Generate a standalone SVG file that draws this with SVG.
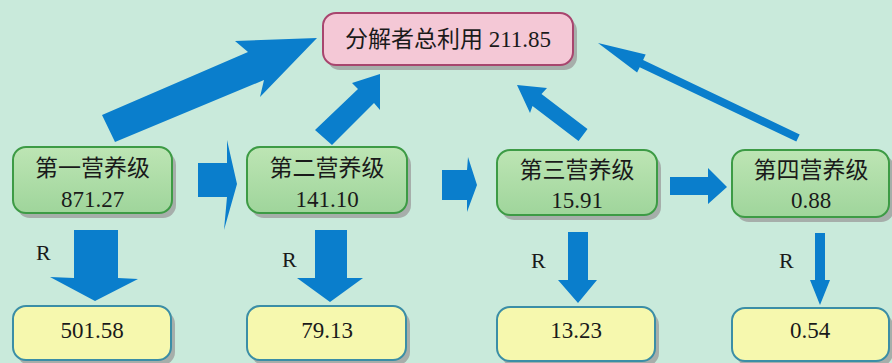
<svg xmlns="http://www.w3.org/2000/svg" width="892" height="363" viewBox="0 0 892 363">
<defs>
<linearGradient id="gg" x1="0" y1="0" x2="0" y2="1">
<stop offset="0" stop-color="#bde5b4"/>
<stop offset="1" stop-color="#9fd59b"/>
</linearGradient>
<style>
.sh{fill:#9a9a9a;opacity:0.75}
.g{fill:url(#gg);stroke:#3d9b45;stroke-width:2}
.p{fill:#f4c8d6;stroke:#a8456e;stroke-width:2}
.y{fill:#f6f8ae;stroke:#3b8ea6;stroke-width:2}
text.cj,tspan.cj{font-family:"Noto Sans CJK SC","Noto Sans",sans-serif;font-size:23px;fill:#1a1a1a}
text.nm,tspan.nm{font-family:"Liberation Serif","Times New Roman",serif;font-size:23px;fill:#1a1a1a}
text.r{font-family:"Liberation Serif","Times New Roman",serif;font-size:22px;fill:#1a1a1a}
.ar{fill:#0a7ecc}
</style>
</defs>
<rect width="892" height="363" fill="#c9eadb"/>
<g id="connectors">
<polygon class="ar" points="102,115 248,52 235,41 317,38 260,97 264,80 115,142"/>
<polygon class="ar" points="315,130 358,89 352,83 380,74 380,110 374,103 332,145"/>
<polygon class="ar" points="587.5,129 541.5,94 547,88 517,85 530,113 532.5,106 578.5,141"/>
<polygon class="ar" points="799.7,134.4 643.1,60 645.7,54.6 598,43 637.1,72.6 639.7,67.2 796.3,141.6"/>
<polygon class="ar" points="198,163 227,163 227,140 237,184 224,230 227,197 198,197"/>
<polygon class="ar" points="442,170 467,170 468,157 477,185 467,212 467,200 442,200"/>
<polygon class="ar" points="670,177 708,177 708,168 727,187 708,204 708,195 670,195"/>
<polygon class="ar" points="74,230 118,230 118,278 138,279 95,301 50,277 74,278"/>
<polygon class="ar" points="315,230 347,230 347,278 363,278 330,302 297,278 315,278"/>
<polygon class="ar" points="568,232 588,232 588,280 597,280 578,303 558,280 568,280"/>
<polygon class="ar" points="815,233 825,233 825,280 830,280 820,305 810,280 815,280"/>
<text class="r" x="36" y="260">R</text>
<text class="r" x="282" y="267">R</text>
<text class="r" x="531" y="268">R</text>
<text class="r" x="779" y="268">R</text>
</g>
<g id="decomposer">
<rect class="sh" x="327" y="18" width="250" height="52" rx="13"/>
<rect class="p" x="323" y="13" width="250" height="52" rx="13"/>
<text x="448" y="47" text-anchor="middle"><tspan class="cj">分解者总利用</tspan><tspan class="nm"> 211.85</tspan></text>
</g>
<g id="level1">
<rect class="sh" x="17" y="152" width="159" height="66" rx="13"/>
<rect class="g" x="13" y="147" width="159" height="66" rx="13"/>
<text class="cj" x="92.5" y="176" text-anchor="middle">第一营养级</text>
<text class="nm" x="92.5" y="207" text-anchor="middle">871.27</text>
</g>
<g id="level2">
<rect class="sh" x="251" y="152" width="160" height="66" rx="13"/>
<rect class="g" x="247" y="147" width="160" height="66" rx="13"/>
<text class="cj" x="327" y="176" text-anchor="middle">第二营养级</text>
<text class="nm" x="327" y="207" text-anchor="middle">141.10</text>
</g>
<g id="level3">
<rect class="sh" x="501" y="155" width="160" height="65" rx="13"/>
<rect class="g" x="497" y="150" width="160" height="65" rx="13"/>
<text class="cj" x="577" y="178" text-anchor="middle">第三营养级</text>
<text class="nm" x="577" y="208" text-anchor="middle">15.91</text>
</g>
<g id="level4">
<rect class="sh" x="736" y="155" width="158" height="67" rx="13"/>
<rect class="g" x="732" y="150" width="157" height="67" rx="13"/>
<text class="cj" x="811" y="178" text-anchor="middle">第四营养级</text>
<text class="nm" x="811" y="208" text-anchor="middle">0.88</text>
</g>
<g id="resp1">
<rect class="sh" x="17" y="311" width="158" height="54" rx="13"/>
<rect class="y" x="13" y="306" width="158" height="54" rx="13"/>
<text class="nm" x="92" y="338" text-anchor="middle">501.58</text>
</g>
<g id="resp2">
<rect class="sh" x="251" y="311" width="159" height="54" rx="13"/>
<rect class="y" x="247" y="306" width="159" height="54" rx="13"/>
<text class="nm" x="327" y="338" text-anchor="middle">79.13</text>
</g>
<g id="resp3">
<rect class="sh" x="501" y="312" width="158" height="54" rx="13"/>
<rect class="y" x="497" y="307" width="158" height="54" rx="13"/>
<text class="nm" x="576" y="338" text-anchor="middle">13.23</text>
</g>
<g id="resp4">
<rect class="sh" x="736" y="313" width="157" height="53" rx="13"/>
<rect class="y" x="732" y="308" width="157" height="53" rx="13"/>
<text class="nm" x="810" y="338" text-anchor="middle">0.54</text>
</g>
</svg>
